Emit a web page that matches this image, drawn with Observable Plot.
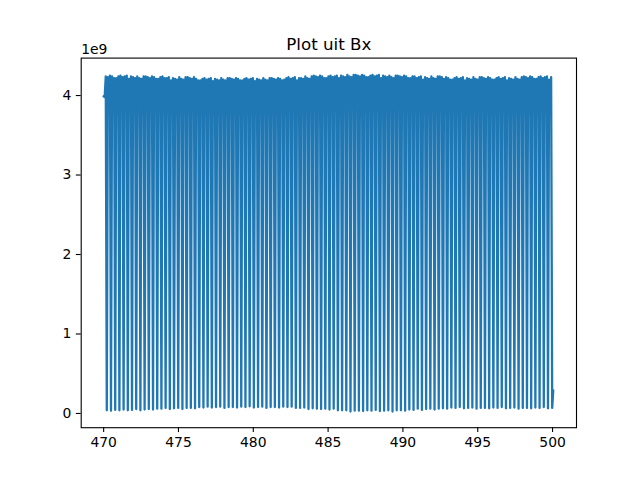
<!DOCTYPE html>
<html>
<head>
<meta charset="utf-8">
<script src="https://cdn.jsdelivr.net/npm/d3@7"></script>
<script src="https://cdn.jsdelivr.net/npm/@observablehq/plot@0.6"></script>
<style>
  html, body { margin: 0; padding: 0; background: white; }
</style>
</head>
<body>
<div id="chart"></div>
<script>
// Sampling grid of the signal (time axis)
const tStart = 470;
const tStep = 0.0702;

// Bx samples, in units of 1e9 (per cycle: peak, dip, peak, trough)
const bx = [
  3.99, 3.98, 4.24, 0.04,
  4.23, 4.00, 4.25, 0.035,
  4.24, 3.95, 4.22, 0.045,
  4.22, 3.98, 4.24, 0.04,
  4.25, 3.95, 4.23, 0.05,
  4.24, 3.99, 4.25, 0.04,
  4.21, 3.91, 4.24, 0.045,
  4.23, 3.94, 4.22, 0.055,
  4.24, 3.97, 4.22, 0.04,
  4.21, 3.90, 4.24, 0.05,
  4.24, 3.90, 4.23, 0.055,
  4.22, 3.92, 4.24, 0.05,
  4.23, 3.86, 4.21, 0.06,
  4.21, 3.90, 4.23, 0.06,
  4.24, 3.86, 4.22, 0.07,
  4.22, 3.91, 4.23, 0.055,
  4.19, 3.83, 4.22, 0.065,
  4.21, 3.86, 4.20, 0.07,
  4.23, 3.90, 4.21, 0.055,
  4.20, 3.83, 4.23, 0.07,
  4.23, 3.83, 4.22, 0.07,
  4.21, 3.85, 4.23, 0.065,
  4.21, 3.79, 4.19, 0.08,
  4.19, 3.83, 4.21, 0.075,
  4.22, 3.80, 4.20, 0.085,
  4.21, 3.85, 4.22, 0.075,
  4.18, 3.78, 4.21, 0.08,
  4.20, 3.82, 4.19, 0.085,
  4.22, 3.86, 4.20, 0.07,
  4.19, 3.80, 4.22, 0.08,
  4.22, 3.81, 4.21, 0.08,
  4.20, 3.84, 4.22, 0.075,
  4.21, 3.79, 4.19, 0.085,
  4.19, 3.83, 4.21, 0.08,
  4.22, 3.80, 4.20, 0.09,
  4.21, 3.85, 4.22, 0.075,
  4.18, 3.78, 4.21, 0.08,
  4.20, 3.82, 4.19, 0.085,
  4.22, 3.86, 4.20, 0.07,
  4.19, 3.80, 4.22, 0.08,
  4.22, 3.81, 4.21, 0.08,
  4.20, 3.84, 4.22, 0.075,
  4.21, 3.80, 4.19, 0.085,
  4.20, 3.86, 4.22, 0.08,
  4.23, 3.84, 4.21, 0.085,
  4.22, 3.90, 4.23, 0.07,
  4.19, 3.85, 4.22, 0.07,
  4.22, 3.90, 4.21, 0.075,
  4.24, 3.95, 4.22, 0.055,
  4.21, 3.91, 4.24, 0.065,
  4.25, 3.93, 4.24, 0.06,
  4.23, 3.97, 4.25, 0.055,
  4.24, 3.94, 4.22, 0.06,
  4.22, 3.99, 4.24, 0.05,
  4.25, 3.96, 4.23, 0.06,
  4.24, 4.02, 4.25, 0.04,
  4.22, 3.95, 4.25, 0.04,
  4.24, 4.00, 4.23, 0.04,
  4.26, 4.04, 4.24, 0.025,
  4.23, 3.98, 4.26, 0.035,
  4.26, 3.99, 4.25, 0.035,
  4.24, 4.02, 4.26, 0.03,
  4.25, 3.97, 4.23, 0.04,
  4.23, 4.01, 4.25, 0.035,
  4.26, 3.98, 4.24, 0.045,
  4.25, 4.03, 4.26, 0.03,
  4.22, 3.95, 4.25, 0.035,
  4.24, 3.98, 4.23, 0.04,
  4.25, 4.01, 4.23, 0.025,
  4.22, 3.94, 4.25, 0.04,
  4.25, 3.93, 4.24, 0.04,
  4.23, 3.95, 4.25, 0.035,
  4.24, 3.89, 4.22, 0.05,
  4.22, 3.92, 4.24, 0.045,
  4.24, 3.88, 4.22, 0.06,
  4.23, 3.92, 4.24, 0.045,
  4.20, 3.84, 4.23, 0.055,
  4.22, 3.87, 4.21, 0.06,
  4.24, 3.90, 4.22, 0.05,
  4.21, 3.84, 4.24, 0.06,
  4.24, 3.84, 4.23, 0.065,
  4.21, 3.86, 4.23, 0.06,
  4.22, 3.80, 4.20, 0.075,
  4.20, 3.83, 4.22, 0.07,
  4.23, 3.80, 4.21, 0.08,
  4.22, 3.85, 4.23, 0.065,
  4.19, 3.78, 4.22, 0.07,
  4.21, 3.82, 4.20, 0.075,
  4.23, 3.86, 4.21, 0.06,
  4.20, 3.80, 4.23, 0.07,
  4.23, 3.81, 4.22, 0.07,
  4.21, 3.84, 4.23, 0.065,
  4.22, 3.79, 4.20, 0.075,
  4.20, 3.83, 4.22, 0.07,
  4.23, 3.80, 4.21, 0.08,
  4.22, 3.85, 4.23, 0.065,
  4.19, 3.79, 4.22, 0.07,
  4.21, 3.83, 4.20, 0.075,
  4.23, 3.88, 4.21, 0.06,
  4.20, 3.82, 4.23, 0.07,
  4.24, 3.84, 4.23, 0.07,
  4.22, 3.87, 4.24, 0.065,
  4.23, 3.83, 4.21, 0.075,
  4.21, 3.87, 4.23, 0.07,
  4.24, 3.85, 4.22, 0.08,
  4.23, 3.90, 4.24, 0.065,
  4.20, 3.83, 4.23, 0.07,
  0.29
];

const xTicks = [470, 475, 480, 485, 490, 495, 500];
const yTicks = [0, 1, 2, 3, 4];
const titleText = "Plot uit Bx";
const offsetText = "1e9";

const rows = bx.map((v, i) => ({t: tStart + i * tStep, v}));

const chart = Plot.plot({
  width: 640,
  height: 480,
  marginLeft: 80.7,
  marginRight: 64,
  marginTop: 57.6,
  marginBottom: 52.8,
  style: {fontFamily: "DejaVu Sans", fontSize: "13.9px", background: "white", color: "black"},
  x: {domain: [468.5, 501.6]},
  y: {domain: [-0.179, 4.471]},
  marks: [
    Plot.line(rows, {x: "t", y: "v", stroke: "#1f77b4", strokeWidth: 2.3}),
    Plot.frame({stroke: "black", strokeWidth: 1.1}),
    Plot.axisX({ticks: xTicks, tickSize: 4.9, tickPadding: 4.9, strokeWidth: 1.1, label: null, tickFormat: d => String(d)}),
    Plot.axisY({ticks: yTicks, tickSize: 4.9, tickPadding: 4.9, strokeWidth: 1.1, label: null, tickFormat: d => String(d)}),
    Plot.text([titleText], {frameAnchor: "top", text: d => d, dy: -8.3, lineAnchor: "bottom", textAnchor: "middle", fontSize: 16.7}),
    Plot.text([offsetText], {frameAnchor: "top-left", text: d => d, dy: -4.6, lineAnchor: "bottom", textAnchor: "start", fontSize: 13.9})
  ]
});
document.getElementById("chart").appendChild(chart);
</script>
</body>
</html>
